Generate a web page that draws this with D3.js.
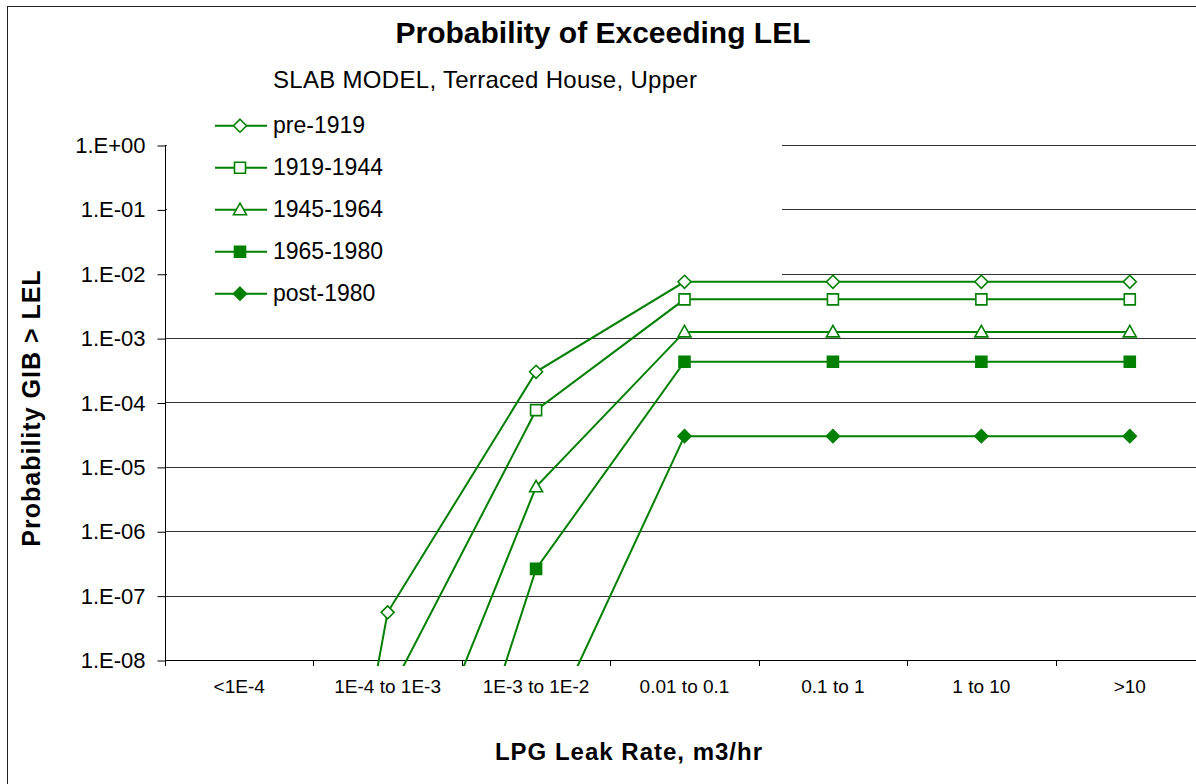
<!DOCTYPE html>
<html>
<head>
<meta charset="utf-8">
<script src="https://cdn.jsdelivr.net/npm/d3@7"></script>
<style>
  body { margin: 0; background: #fff; }
  svg { font-family: "Liberation Sans", Arial, sans-serif; }
  .grid line { stroke: #333; stroke-width: 1; }
  .axis path, .axis line { stroke: #000; }
</style>
</head>
<body>
<svg width="1196" height="784"></svg>
<script>
const w = 1196, h = 784;
const plotL = 165, plotR = 1204, plotT = 145, plotB = 660;
const green = "#008000";

const categories = ["<1E-4", "1E-4 to 1E-3", "1E-3 to 1E-2", "0.01 to 0.1", "0.1 to 1", "1 to 10", ">10"];
const yTicks = [1, 1e-1, 1e-2, 1e-3, 1e-4, 1e-5, 1e-6, 1e-7, 1e-8];

// values (null = off the chart, not readable)
const pre1919   = [1.5e-20, 5.5e-8, 3.0e-4, 7.5e-3, 7.5e-3, 7.5e-3, 7.5e-3];
const y1919     = [null, 2.7e-9, 7.6e-5, 4.0e-3, 4.0e-3, 4.0e-3, 4.0e-3];
const y1945     = [null, 9.3e-12, 4.9e-6, 1.25e-3, 1.25e-3, 1.25e-3, 1.25e-3];
const y1965     = [null, 2.0e-14, 2.6e-7, 4.3e-4, 4.3e-4, 4.3e-4, 4.3e-4];
const post1980  = [null, null, 3.3e-10, 3.0e-5, 3.0e-5, 3.0e-5, 3.0e-5];

const seriesNames = ["pre-1919", "1919-1944", "1945-1964", "1965-1980", "post-1980"];
const seriesVals  = [pre1919, y1919, y1945, y1965, post1980];
const markers     = ["diamond", "square", "triangle", "squareFilled", "diamondFilled"];

const scaleX = d3.scaleBand().domain(categories).range([plotL, plotR]).padding(0);
const scaleY = d3.scaleLog().domain([1e-8, 1]).range([plotB, plotT]);

const svg = d3.select("svg");

function markerPath(type) {
    if (type.startsWith("diamond")) return "M0,-6.5L6.5,0L0,6.5L-6.5,0Z";
    if (type.startsWith("square")) return "M-5.5,-5.5H5.5V5.5H-5.5Z";
    return "M0,-6.5L6.5,5L-6.5,5Z";
}
const isFilled = t => t.endsWith("Filled");

// chart frame
svg.append("rect")
        .attr("x", 7.5).attr("y", 6.5)
        .attr("width", 1300).attr("height", 900)
        .attr("fill", "none").attr("stroke", "#222").attr("stroke-width", 1);

// gridlines
svg.append("g").attr("class", "grid")
        .selectAll("line")
        .data(yTicks)
        .join("line")
        .attr("x1", plotL).attr("x2", plotR)
        .attr("y1", d => Math.round(scaleY(d)) + 0.5)
        .attr("y2", d => Math.round(scaleY(d)) + 0.5);

// y axis
const axisY = d3.axisLeft(scaleY)
        .tickValues(yTicks)
        .tickSize(8)
        .tickPadding(12)
        .tickFormat(d => {
            const e = Math.round(Math.log10(d));
            return "1.E" + (e < 0 ? "-" : "+") + String(Math.abs(e)).padStart(2, "0");
        });
const yG = svg.append("g").attr("class", "axis")
        .attr("transform", `translate(${plotL + 0.5},0.5)`)
        .call(axisY);
yG.select(".domain").attr("d", `M0,${plotT}V${plotB}`);
yG.selectAll("text").attr("font-size", 22).attr("fill", "#000")
        .attr("font-family", "Liberation Sans, Arial, sans-serif");

// x axis line + boundary ticks
const xG = svg.append("g").attr("class", "axis");
xG.append("line")
        .attr("x1", plotL).attr("x2", plotR)
        .attr("y1", plotB + 0.5).attr("y2", plotB + 0.5);
const bounds = categories.map(c => scaleX(c)).concat([scaleX.range()[1]]);
xG.selectAll("line.tick")
        .data(bounds)
        .join("line").attr("class", "tick")
        .attr("x1", d => Math.round(d) + 0.5).attr("x2", d => Math.round(d) + 0.5)
        .attr("y1", plotB).attr("y2", plotB + 6);
xG.selectAll("text")
        .data(categories)
        .join("text")
        .attr("x", d => scaleX(d) + scaleX.bandwidth() / 2)
        .attr("y", 693)
        .attr("text-anchor", "middle")
        .attr("font-size", 19)
        .text(d => d);

// legend box (covers gridlines)
svg.append("rect")
        .attr("x", plotL + 2).attr("y", 60)
        .attr("width", 782 - plotL - 2).attr("height", 245)
        .attr("fill", "#fff");

// series
svg.append("clipPath").attr("id", "clip")
        .append("rect")
        .attr("x", plotL).attr("y", plotT - 10)
        .attr("width", plotR - plotL).attr("height", plotB + 6 - plotT + 10);

const plot = svg.append("g").attr("clip-path", "url(#clip)");
const line = d3.line()
        .defined(d => d.v != null)
        .x(d => scaleX(d.c) + scaleX.bandwidth() / 2)
        .y(d => scaleY(d.v));

seriesVals.forEach((vals, i) => {
    const pts = vals.map((v, j) => ({c: categories[j], v: v}));
    plot.append("path")
            .datum(pts)
            .attr("d", line)
            .attr("fill", "none")
            .attr("stroke", green)
            .attr("stroke-width", 2);
    plot.selectAll(null)
            .data(pts.filter(d => d.v != null))
            .join("path")
            .attr("transform", d => `translate(${scaleX(d.c) + scaleX.bandwidth() / 2},${scaleY(d.v)})`)
            .attr("d", markerPath(markers[i]))
            .attr("fill", isFilled(markers[i]) ? green : "#fff")
            .attr("stroke", green)
            .attr("stroke-width", 1.6);
});

// legend
const legend = svg.append("g").attr("class", "legend");
seriesNames.forEach((name, i) => {
    const y = 125.7 + i * 42;
    legend.append("line")
            .attr("x1", 215).attr("x2", 267)
            .attr("y1", y).attr("y2", y)
            .attr("stroke", green).attr("stroke-width", 2);
    legend.append("path")
            .attr("transform", `translate(240,${y})`)
            .attr("d", markerPath(markers[i]))
            .attr("fill", isFilled(markers[i]) ? green : "#fff")
            .attr("stroke", green).attr("stroke-width", 1.6);
    legend.append("text")
            .attr("x", 273).attr("y", y + 7.5)
            .attr("font-size", 23)
            .text(name);
});

// titles
svg.append("text")
        .attr("x", 603).attr("y", 43)
        .attr("text-anchor", "middle")
        .attr("font-size", 30).attr("font-weight", "bold")
        .text("Probability of Exceeding LEL");
svg.append("text")
        .attr("x", 273).attr("y", 88)
        .attr("font-size", 24)
        .attr("letter-spacing", 0.3)
        .text("SLAB MODEL, Terraced House, Upper");
svg.append("text")
        .attr("x", 629).attr("y", 760)
        .attr("text-anchor", "middle")
        .attr("font-size", 24).attr("font-weight", "bold")
        .attr("letter-spacing", 1)
        .text("LPG Leak Rate, m3/hr");
svg.append("text")
        .attr("transform", `translate(40,408) rotate(-90)`)
        .attr("text-anchor", "middle")
        .attr("font-size", 25).attr("font-weight", "bold")
        .attr("letter-spacing", 1)
        .text("Probability GIB > LEL");
</script>
</body>
</html>
